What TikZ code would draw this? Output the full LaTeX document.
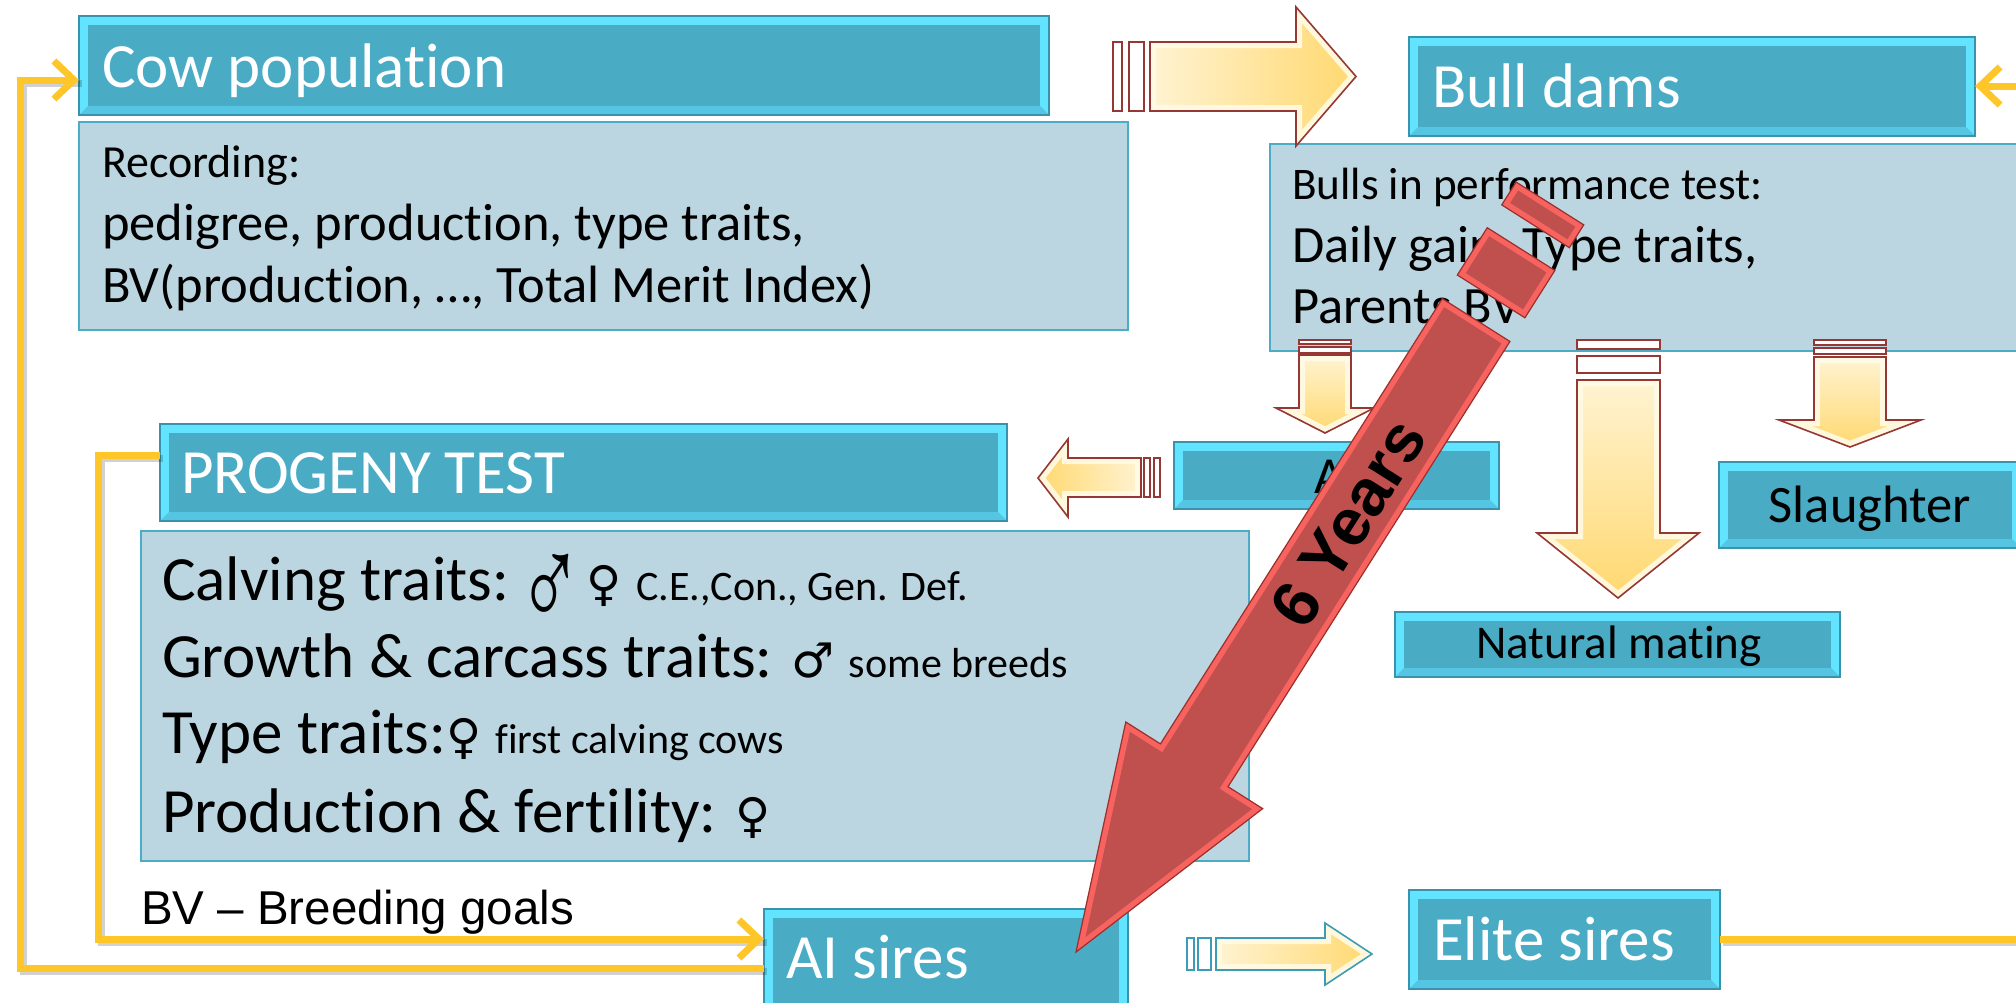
\documentclass[tikz,border=0pt]{standalone}
\usepackage{fontspec}
\usepackage{graphicx}
\setmainfont{Carlito}[Ligatures=NoCommon]
\newfontfamily\arialf{Liberation Sans}
\newfontfamily\symf{DejaVu Sans}
\newfontfamily\symthin{Liberation Serif}
\usetikzlibrary{arrows.meta,calc}
\definecolor{hdrTop}{HTML}{62E3FF}
\definecolor{hdrBot}{HTML}{55C5E3}
\definecolor{hdrIn}{HTML}{4AABC5}
\definecolor{hdrLine}{HTML}{3A93AC}
\definecolor{boxFill}{HTML}{BBD6E1}
\definecolor{boxLine}{HTML}{4BACC6}
\definecolor{ylw}{HTML}{FFC62A}
\definecolor{cream}{HTML}{FFF3D2}
\definecolor{gold}{HTML}{FFD86F}
\definecolor{bev}{HTML}{FFFBE6}
\definecolor{arrRed}{HTML}{953734}
\definecolor{tealLine}{HTML}{3C9CB6}
\definecolor{redMain}{HTML}{C0504D}
\definecolor{redBev}{HTML}{F8635F}
\definecolor{redLine}{HTML}{9A2F2B}
\newcommand\setfs[1]{\fontsize{#1}{#1}\selectfont}
\newcommand\boxat[6]{\node[#1, anchor=north west, minimum width={(#5-#3)*0.5pt}, minimum height={(#6-#4)*0.5pt}] (#2) at (#3,#4) {};}
\newcommand\beige[3]{%
  \path[#1] #3;
  \begin{scope}\clip #3; \draw[bev, opacity=0.9, line width=6pt] #3; \end{scope}
  \draw[#2, line width=0.8pt, line join=miter] #3;}
\newcommand\redpart[1]{%
  \path[fill=redMain] #1;
  \begin{scope}\clip #1; \draw[redBev, line width=6pt] #1; \end{scope}
  \draw[redLine, line width=0.6pt, line join=miter] #1;}
\begin{document}
\begin{tikzpicture}[x=0.5pt,y=-0.5pt,
  hdr/.style={rectangle, draw=hdrLine, line width=0.6pt, fill=hdrTop, inner sep=0pt, outer sep=0pt,
    path picture={
      \fill[hdrBot] (path picture bounding box.south west) -- (path picture bounding box.south east)
        -- ([shift={(-9,-9)}]path picture bounding box.south east) -- ([shift={(9,-9)}]path picture bounding box.south west) -- cycle;
      \fill[hdrIn] ([shift={(9,9)}]path picture bounding box.north west) rectangle ([shift={(-9,-9)}]path picture bounding box.south east);
    }},
  tbox/.style={rectangle, draw=boxLine, line width=1.3pt, fill=boxFill, inner sep=0pt, outer sep=0pt},
  txt/.style={inner sep=0pt, outer sep=0pt, anchor=base west},
  htxt/.style={txt, text=white, font=\setfs{31.5pt}},
  yl/.style={draw=ylw, line width=3.5pt, line join=miter},
  ysh/.style={draw=black, opacity=0.18, line width=3.5pt, transform canvas={shift={(1.5pt,-1.5pt)}}},
  ya/.style={-{Straight Barb[length=10pt,width=19pt]}},
  bar/.style={draw=arrRed, fill=white, line width=0.8pt},
  tbar/.style={draw=tealLine, fill=white, line width=0.8pt}
]
\useasboundingbox (0,0) rectangle (2016,1002);
\fill[white] (0,0) rectangle (2016,1002);

% text boxes
\boxat{tbox}{recB}{79}{122}{1128}{330}
\boxat{tbox}{perfB}{1270}{144}{2030}{351}
\boxat{tbox}{progB}{141}{531}{1249}{861}

% headers
\boxat{hdr}{cowH}{79}{16}{1049}{115}
\boxat{hdr}{bullH}{1409}{37}{1975}{136}
\boxat{hdr}{progH}{160}{424}{1007}{521}
\boxat{hdr}{aiH}{1174}{442}{1499}{509}
\boxat{hdr}{slH}{1719}{462}{2021}{548}
\boxat{hdr}{natH}{1395}{612}{1840}{677}
\boxat{hdr}{aisH}{764}{909}{1128}{1020}
\boxat{hdr}{eliteH}{1409}{890}{1720}{989}

% header texts
\node[htxt] (cowT) at (102,87) {Cow population};
\node[htxt] (bullT) at (1432,107) {Bull dams};
\node[htxt] (progT) at (181,493) {PROGENY TEST};
\node[htxt] (aisT) at (786,978) {AI sires};
\node[htxt] (eliteT) at (1433,960) {Elite sires};
\node[txt, anchor=base, font=\setfs{26pt}] (aiT) at (1336,493) {AI};
\node[txt, anchor=base, font=\setfs{26.3pt}] (slT) at (1870,522) {Slaughter};
\node[txt, anchor=base, font=\setfs{23.5pt}] (natT) at (1619,658) {Natural mating};

% box texts
\node[txt, font=\setfs{23pt}] (r1) at (102,177) {Recording:};
\node[txt, font=\setfs{26.25pt}] (r2) at (102,240) {pedigree, production, type traits,};
\node[txt, font=\setfs{26.25pt}] (r3) at (102,302) {BV(production, …, Total Merit Index)};
\node[txt, font=\setfs{22.6pt}] (b1) at (1292,199) {Bulls in performance test:};
\node[txt, font=\setfs{26.2pt}] (b2) at (1292,262) {Daily gain, Type traits,};
\node[txt, font=\setfs{26.2pt}] (b3) at (1292,323) {Parents BV};
\node[txt, font=\setfs{31.5pt}] (p1) at (162,600) {Calving traits:\hspace{4pt}\raisebox{-14pt}{\scalebox{0.73}[1.1]{\symthin\setfs{60pt}♂}}\hspace{2pt}{\symf\setfs{24pt}♀} {\setfs{21pt}C.E.,Con., Gen. Def.}};
\node[txt, font=\setfs{31.5pt}] (p2) at (162,677) {Growth \& carcass traits: {\symf\setfs{24pt}♂} {\setfs{21pt}some breeds}};
\node[txt, font=\setfs{31.5pt}] (p3) at (162,753) {Type traits:{\symf\setfs{24pt}♀} {\setfs{21pt}first calving cows}};
\node[txt, font=\setfs{31.5pt}] (p4) at (162,832) {Production \& fertility: {\symf\setfs{24pt}♀}};
\node[txt, font=\arialf\setfs{23.75pt}] (bvT) at (141,924) {BV – Breeding goals};

% yellow connectors
\coordinate (eR) at (2030,939);
\coordinate (bR) at (2030,86);
\draw[ysh] ($(aisH.north west)+(0,59)$) -- (20,968) -- (20,80) -- ($(cowH.north west)+(0,64)$);
\draw[ysh] ($(progH.north west)+(0,31)$) -- (98,455) -- (98,939) -- ($(aisH.north west)+(0,30)$);
\draw[ysh] ($(eliteH.north east)+(0,49)$) -- (eR);
\draw[yl, ya] ($(aisH.north west)+(0,59)$) -- (20,968) -- (20,80) -- ($(cowH.north west)+(0,64)$);
\draw[yl, ya] ($(progH.north west)+(0,31)$) -- (98,455) -- (98,939) -- ($(aisH.north west)+(0,30)$);
\draw[yl] ($(eliteH.north east)+(0,49)$) -- (eR);
\draw[yl, ya] (bR) -- ($(bullH.north east)+(0,49)$);

% beige block arrows
\draw[bar] (1113,42) rectangle (1122,111);
\draw[bar] (1129,42) rectangle (1144,111);
\beige{left color=cream, right color=gold}{arrRed}{(1356,76.5) -- (1296,7) -- (1296,42) -- (1150,42) -- (1150,111) -- (1296,111) -- (1296,146) -- cycle}

\draw[bar] (1144,458) rectangle (1150,497);
\draw[bar] (1154,458) rectangle (1160,497);
\beige{left color=gold, right color=cream}{arrRed}{(1038,478) -- (1068,439) -- (1068,458) -- (1141,458) -- (1141,497) -- (1068,497) -- (1068,517) -- cycle}

\draw[bar] (1299,340) rectangle (1351,344);
\draw[bar] (1299,347) rectangle (1351,353);
\beige{top color=cream, bottom color=gold}{arrRed}{(1325,433) -- (1374,408) -- (1351,408) -- (1351,355) -- (1299,355) -- (1299,408) -- (1276,408) -- cycle}

\draw[bar] (1577,340) rectangle (1660,349);
\draw[bar] (1577,356) rectangle (1660,373);
\beige{top color=cream, bottom color=gold}{arrRed}{(1618,598) -- (1699,533) -- (1660,533) -- (1660,380) -- (1577,380) -- (1577,533) -- (1537,533) -- cycle}

\draw[bar] (1814,340) rectangle (1886,345);
\draw[bar] (1814,348) rectangle (1886,354);
\beige{top color=cream, bottom color=gold}{arrRed}{(1850,447) -- (1921,420) -- (1886,420) -- (1886,357) -- (1814,357) -- (1814,420) -- (1779,420) -- cycle}

\draw[tbar] (1187,938) rectangle (1194,970);
\draw[tbar] (1198,938) rectangle (1211,970);
\beige{left color=cream, right color=gold}{tealLine}{(1372,954) -- (1325,923) -- (1325,938) -- (1216,938) -- (1216,970) -- (1325,970) -- (1325,985) -- cycle}

% red striped arrow
\begin{scope}[shift={(1076,952)}, rotate=57.66]
  \redpart{(0,0) -- (221,81) -- (221,40) -- (748,40) -- (748,-40) -- (221,-40) -- (221,-81) -- cycle}
  \redpart{(776,-40) rectangle (832,40)}
  \redpart{(859,-40) rectangle (886,40)}
  \node[rotate=57.66, inner sep=0pt, font=\arialf\bfseries\setfs{33pt}] (yrs) at (508,0) {6 Years};
\end{scope}
\end{tikzpicture}
\end{document}
